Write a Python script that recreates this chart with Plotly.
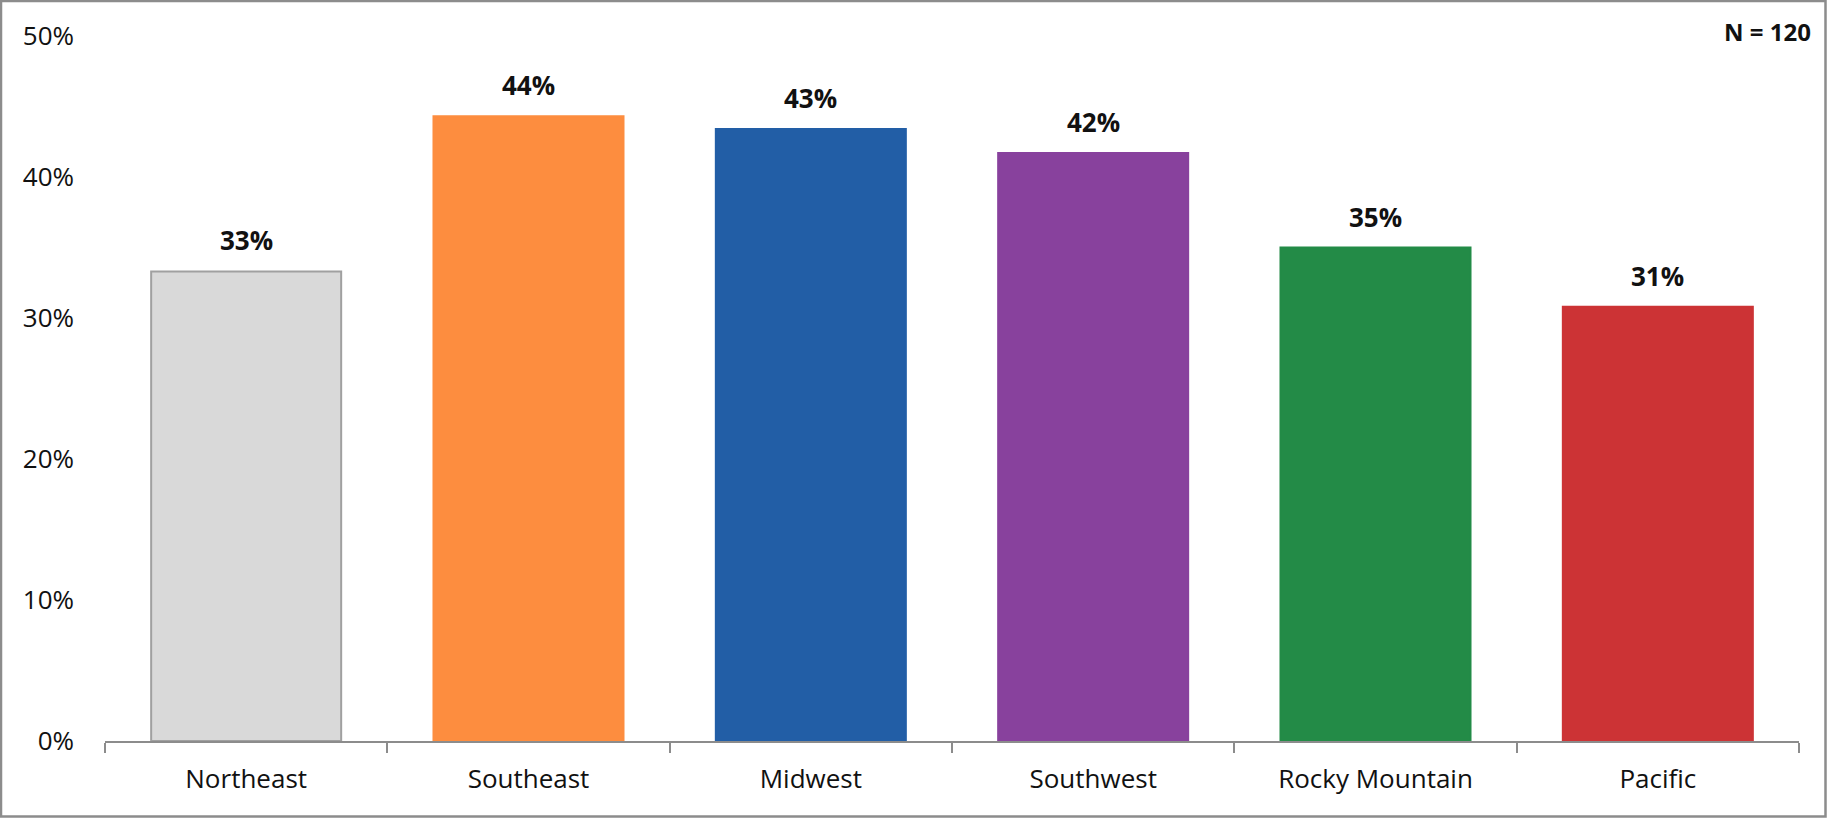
import plotly.graph_objects as go

regions = ['Northeast', 'Southeast', 'Midwest', 'Southwest', 'Rocky Mountain', 'Pacific']
shares = [0.333, 0.443, 0.434, 0.417, 0.350, 0.308]
bar_colors = ['#D9D9D9', '#FD8D3F', '#225EA6', '#88419D', '#238B47', '#CC3335']
line_colors = ['#A0A0A0', '#FD8D3F', '#225EA6', '#88419D', '#238B47', '#CC3335']
y_ticks = [0, 0.1, 0.2, 0.3, 0.4, 0.5]
n_label = 'N = 120'

W, H = 1827, 818
m_l, m_r, m_t, m_b = 105, 28, 36, 77
pw, ph = W - m_l - m_r, H - m_t - m_b

font = 'Open Sans, Liberation Sans, sans-serif'
gray = '#8C8C8C'

fig = go.Figure(go.Bar(
    x=regions, y=shares,
    marker=dict(color=bar_colors, line=dict(color=line_colors, width=2)),
    width=0.673,
    hoverinfo='x+y',
))

# value labels above the bars
annotations = [dict(x=r, y=v, text=f'<b>{v:.0%}</b>', showarrow=False,
                    xanchor='center', yanchor='middle', yshift=31,
                    font=dict(size=26, color='#111111'))
               for r, v in zip(regions, shares)]
annotations.append(dict(text='<b>' + n_label + '</b>', xref='paper', yref='paper',
                        x=1 + (1813 - (W - m_r)) / pw, y=1 + (m_t - 32) / ph,
                        xanchor='right', yanchor='middle', showarrow=False,
                        font=dict(size=24, color='#111111')))

fig.update_layout(
    width=W, height=H,
    margin=dict(l=m_l, r=m_r, t=m_t, b=m_b),
    plot_bgcolor='white', paper_bgcolor='white',
    font=dict(family=font, size=26, color='#111111'),
    showlegend=False,
    xaxis=dict(showline=True, linecolor=gray, linewidth=2,
               ticks='outside', tickson='boundaries', ticklen=10, tickwidth=2,
               tickcolor=gray, showgrid=False, ticklabelstandoff=14,
               tickfont=dict(size=26)),
    yaxis=dict(range=[0, 0.5], tickvals=y_ticks, tickformat='.0%',
               showgrid=False, zeroline=False, showline=False,
               ticklabelstandoff=30, tickfont=dict(size=26)),
    annotations=annotations,
    shapes=[dict(type='rect', xref='paper', yref='paper',
                 x0=-(m_l - 1) / pw, x1=1 + (m_r - 1.5) / pw,
                 y0=-(m_b - 1.5) / ph, y1=1 + (m_t - 1) / ph,
                 line=dict(color=gray, width=2.5))],
)

fig.write_html('out.html', config={'displayModeBar': False},
               post_script="document.body.style.margin='0';document.body.style.overflow='hidden';")
